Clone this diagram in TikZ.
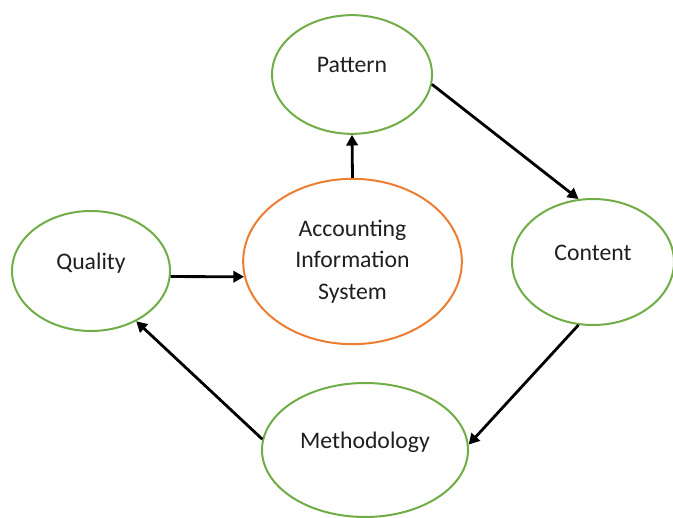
\documentclass[tikz,border=0pt]{standalone}
\usepackage{fontspec}
\setmainfont{Carlito}
\usetikzlibrary{shapes.geometric,arrows.meta}
\definecolor{leafgreen}{RGB}{112,173,71}
\definecolor{rustorange}{RGB}{237,125,49}

\begin{document}
\begin{tikzpicture}[x=0.75pt,y=0.75pt,
	every node/.style={font=\fontsize{17.8}{23.6}\selectfont,text=black!88},
	topic/.style={draw=leafgreen,ellipse,line width=1.5pt,inner sep=0pt},
	hub/.style={draw=rustorange,ellipse,line width=1.5pt,inner sep=0pt,align=center},
	word/.style={text height=11.3pt,text depth=0pt,yshift=7pt},
	link/.style={->,>={Triangle[length=8pt,width=8.5pt]},line width=2.1pt}]
			\useasboundingbox (0,0) rectangle (673,517);
			\node[topic,minimum width=120pt,minimum height=89pt,label={[word]center:Pattern}] (pat)at(352,442.5) {};
			\node[hub,minimum width=164pt,minimum height=124pt] (ais)at(352.5,255.5) {Accounting\\Information\\System};
			\node[topic,minimum width=118.5pt,minimum height=90pt,label={[word]center:Quality}] (qual)at(91,246) {};
			\node[topic,minimum width=121.5pt,minimum height=94.5pt,label={[word]center:Content}] (con)at(593,255) {};
			\node[topic,minimum width=154.5pt,minimum height=100.5pt,label={[word]center:Methodology}] (meth)at(365,67) {};
			\draw[link] (ais.north) -- (pat.south);
			\draw[link] (pat.-7) -- (con.103);
			\draw[link] (con.-103) -- (meth.3);
			\draw[link] (meth.174) -- (qual.-48);
			\draw[link] (qual.-4) -- (ais.188);
\end{tikzpicture}
\end{document}
